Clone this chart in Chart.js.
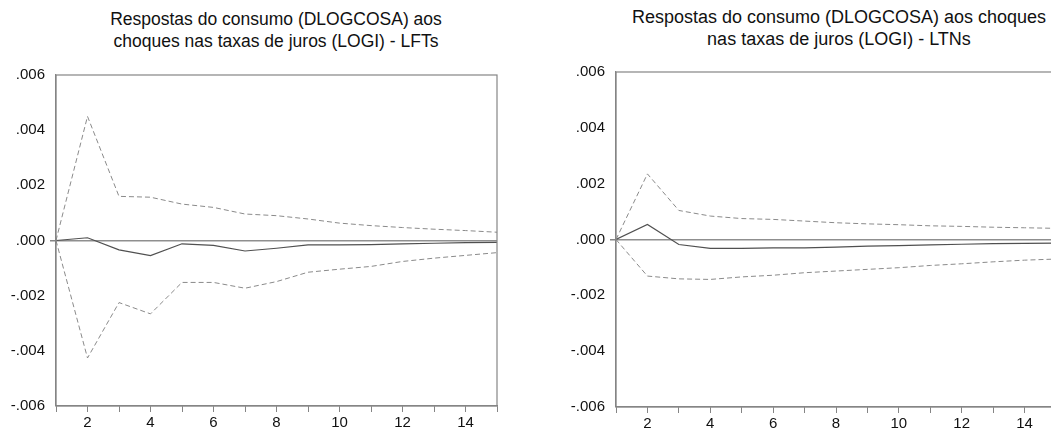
<!DOCTYPE html>
<html>
<head>
<meta charset="utf-8">
<script src="https://cdn.jsdelivr.net/npm/chart.js@4"></script>
<style>
  body { margin: 0; background: #fff; width: 1051px; height: 431px; overflow: hidden; position: relative; }
  .title { position: absolute; font-family: "Liberation Sans", Arial, sans-serif; color: #111; text-align: center; line-height: 22px; white-space: nowrap; }
  canvas { position: absolute; top: 0; }
</style>
</head>
<body>
<div class="title" id="t1" style="left:76px; width:400px; top:8px; font-size:17.5px;">Respostas do consumo (DLOGCOSA) aos<br>choques nas taxas de juros (LOGI) - LFTs</div>
<div class="title" id="t2" style="left:609px; width:460px; top:6px; font-size:18px;">Respostas do consumo (DLOGCOSA) aos choques<br>nas taxas de juros (LOGI) - LTNs</div>
<canvas id="lft" width="505" height="431" style="left:0px"></canvas>
<canvas id="ltn" width="520" height="431" style="left:560px"></canvas>
<script>
const horizons = [1, 2, 3, 4, 5, 6, 7, 8, 9, 10, 11, 12, 13, 14, 15];

// LFTs
const lftResp  = [0, 0.0001, -0.00034, -0.00055, -0.00012, -0.00018, -0.00038, -0.00028, -0.00016, -0.00016, -0.00015, -0.00012, -0.0001, -0.00008, -0.00007];
const lftUpper = [0, 0.0045, 0.0016, 0.00157, 0.00132, 0.0012, 0.00096, 0.0009, 0.00078, 0.00063, 0.00054, 0.00047, 0.00041, 0.00036, 0.0003];
const lftLower = [0, -0.00426, -0.00225, -0.00266, -0.00152, -0.00152, -0.00173, -0.00149, -0.00115, -0.00104, -0.00094, -0.00076, -0.00064, -0.00054, -0.00044];

// LTNs
const ltnResp  = [0, 0.00054, -0.00018, -0.00032, -0.00032, -0.0003, -0.0003, -0.00027, -0.00024, -0.00022, -0.00019, -0.00017, -0.00015, -0.00014, -0.00013];
const ltnUpper = [0, 0.00235, 0.00104, 0.00084, 0.00075, 0.00072, 0.00066, 0.0006, 0.00056, 0.00053, 0.00049, 0.00047, 0.00044, 0.00042, 0.0004];
const ltnLower = [0, -0.00131, -0.00141, -0.00143, -0.00134, -0.00128, -0.00119, -0.00113, -0.00107, -0.00101, -0.00093, -0.00087, -0.0008, -0.00074, -0.0007];

const yMin = -0.006, yMax = 0.006, yStep = 0.002;
const xLabelEvery = 2;

const axisColor = '#858585';
const font = { family: '"Liberation Sans", Arial, sans-serif', size: 15 };

const fmtY = (v) => {
    if (Math.abs(v) < 1e-9) return '.000';
    let s = v.toFixed(3);
    return s.replace('0.', '.');
};

const toPts = (arr) => horizons.map((h, i) => ({ x: h, y: arr[i] }));

const frame = {
    id: 'frame',
    afterDraw(chart) {
        const { ctx, chartArea: a } = chart;
        ctx.save();
        ctx.strokeStyle = axisColor;
        ctx.lineWidth = 1.2;
        ctx.strokeRect(a.left, a.top, a.right - a.left, a.bottom - a.top);
        ctx.restore();
    }
};

const makeChart = (id, resp, upper, lower, top, bottom, padRight) => {
    const ctx = document.getElementById(id).getContext('2d');
    const h = ctx.canvas.height;
    return new Chart(ctx, {
        type: 'line',
        data: {
            datasets: [
                { data: toPts(upper), borderColor: '#8a8a8a', borderWidth: 1, borderDash: [5, 3] },
                { data: toPts(lower), borderColor: '#8a8a8a', borderWidth: 1, borderDash: [5, 3] },
                { data: toPts(resp), borderColor: '#505050', borderWidth: 1.2 }
            ]
        },
        options: {
            responsive: false,
            animation: false,
            devicePixelRatio: 1,
            layout: { padding: { top: top, right: padRight, left: 0, bottom: 0 } },
            elements: { point: { radius: 0 }, line: { tension: 0 } },
            plugins: { legend: { display: false }, tooltip: { enabled: false }, title: { display: false } },
            scales: {
                x: {
                    type: 'linear',
                    min: 1, max: 15,
                    afterFit: (s) => { s.height = h - bottom; },
                    border: { color: axisColor, width: 1.2 },
                    grid: { drawOnChartArea: false, drawTicks: true, tickLength: 6, tickColor: axisColor },
                    ticks: {
                        stepSize: 1, autoSkip: false, maxRotation: 0, padding: 2,
                        color: '#111', font: font,
                        callback: (v) => (v % xLabelEvery === 0 ? String(v) : '')
                    }
                },
                y: {
                    min: yMin, max: yMax,
                    afterFit: (s) => { s.width = 56; },
                    border: { color: axisColor, width: 1.2 },
                    grid: {
                        drawTicks: true, tickLength: 6, tickColor: axisColor,
                        color: (c) => (c.tick && Math.abs(c.tick.value) < 1e-9 ? '#8f8f8f' : 'rgba(0,0,0,0)'),
                        lineWidth: (c) => (c.tick && Math.abs(c.tick.value) < 1e-9 ? 1.5 : 0)
                    },
                    ticks: { stepSize: yStep, padding: 5, color: '#111', font: font, callback: fmtY }
                }
            }
        },
        plugins: [frame]
    });
};

// x axis height = canvas height - plot bottom
makeChart('lft', lftResp, lftUpper, lftLower, 75, 406, 8);
makeChart('ltn', ltnResp, ltnUpper, ltnLower, 72, 407, 24);
</script>
</body>
</html>
